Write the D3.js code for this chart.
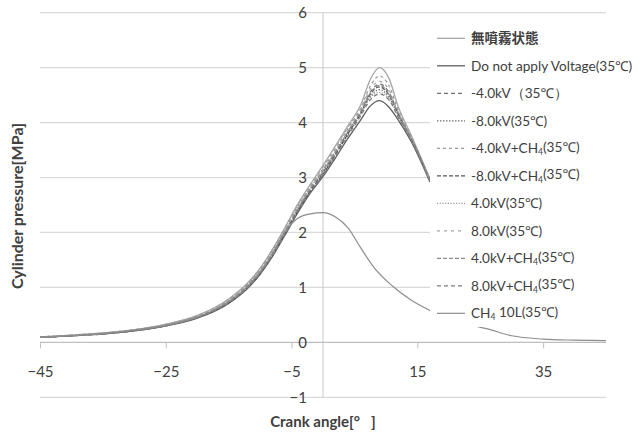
<!DOCTYPE html>
<html>
<head>
<meta charset="utf-8">
<script src="https://cdn.jsdelivr.net/npm/d3@7"></script>
<style>
  html, body { margin: 0; padding: 0; background: #fff; }
  svg { display: block; }
  text { font-family: Lato, "Noto Sans", sans-serif; fill: #404040; }
</style>
</head>
<body>
<svg id="chart" width="644" height="435"></svg>
<script>
// Crank angles [deg] for the combustion runs
const angles = [-45, -40, -35, -30, -25, -20, -15, -12, -10, -8, -6, -4, -2, 0, 2, 4, 6, 7.5, 9, 10.5, 12, 14, 17];

// Cylinder pressure [MPa] for each run
const noSpray      = [0.10, 0.13, 0.17, 0.23, 0.33, 0.49, 0.79, 1.08, 1.35, 1.70, 2.10, 2.52, 2.88, 3.22, 3.58, 3.95, 4.32, 4.78, 5.00, 4.80, 4.28, 3.78, 2.98];
const noVoltage    = [0.09, 0.12, 0.15, 0.21, 0.30, 0.44, 0.71, 0.98, 1.24, 1.57, 1.96, 2.36, 2.72, 3.02, 3.36, 3.72, 4.05, 4.30, 4.40, 4.28, 4.04, 3.66, 2.92];
const minus4kV     = [0.09, 0.12, 0.16, 0.22, 0.31, 0.46, 0.74, 1.02, 1.28, 1.62, 2.02, 2.42, 2.78, 3.10, 3.46, 3.84, 4.20, 4.55, 4.70, 4.55, 4.16, 3.72, 2.95];
const minus8kV     = [0.09, 0.12, 0.16, 0.22, 0.31, 0.45, 0.73, 1.01, 1.27, 1.60, 2.00, 2.40, 2.76, 3.08, 3.43, 3.80, 4.16, 4.47, 4.60, 4.46, 4.12, 3.70, 2.94];
const minus4kVCH4  = [0.10, 0.13, 0.17, 0.23, 0.32, 0.48, 0.77, 1.06, 1.33, 1.68, 2.08, 2.48, 2.84, 3.16, 3.52, 3.90, 4.26, 4.66, 4.85, 4.67, 4.22, 3.75, 2.96];
const minus8kVCH4  = [0.09, 0.12, 0.16, 0.21, 0.30, 0.45, 0.72, 1.00, 1.25, 1.59, 1.99, 2.39, 2.75, 3.06, 3.42, 3.80, 4.17, 4.51, 4.65, 4.50, 4.14, 3.71, 2.95];
const plus4kV      = [0.10, 0.13, 0.17, 0.23, 0.32, 0.47, 0.76, 1.05, 1.31, 1.66, 2.06, 2.46, 2.82, 3.14, 3.48, 3.84, 4.17, 4.45, 4.55, 4.43, 4.11, 3.70, 2.94];
const plus8kV      = [0.10, 0.13, 0.17, 0.23, 0.33, 0.48, 0.78, 1.07, 1.34, 1.69, 2.09, 2.50, 2.86, 3.19, 3.55, 3.92, 4.25, 4.60, 4.75, 4.59, 4.18, 3.74, 2.96];
const plus4kVCH4   = [0.09, 0.12, 0.16, 0.22, 0.31, 0.46, 0.75, 1.03, 1.29, 1.63, 2.03, 2.43, 2.80, 3.12, 3.47, 3.85, 4.20, 4.53, 4.68, 4.52, 4.15, 3.72, 2.95];
const plus8kVCH4   = [0.09, 0.12, 0.15, 0.21, 0.30, 0.45, 0.72, 0.99, 1.25, 1.58, 1.98, 2.38, 2.74, 3.05, 3.40, 3.77, 4.12, 4.41, 4.52, 4.41, 4.09, 3.69, 2.93];

// Methane-only run (no combustion peak), recorded over a longer window
const ch4Angles    = [-45, -40, -35, -30, -25, -20, -15, -12, -10, -8, -6, -4, -2, 0, 2, 4, 6, 8, 11, 14, 17, 20, 23, 26, 30, 35, 40, 45];
const ch4Only      = [0.09, 0.12, 0.16, 0.22, 0.31, 0.46, 0.74, 1.02, 1.28, 1.62, 2.02, 2.26, 2.34, 2.36, 2.28, 2.08, 1.72, 1.38, 1.03, 0.77, 0.58, 0.43, 0.33, 0.25, 0.12, 0.06, 0.04, 0.03];

// Axis ticks
const xTicks = [-45, -25, -5, 15, 35];
const yTicks = [-1, 0, 1, 2, 3, 4, 5, 6];

// Legend labels (parts: [text, isSubscript])
const seriesNames = [
  [["無噴霧状態", false]],
  [["Do not apply Voltage(35℃)", false]],
  [["-4.0kV（35℃）", false]],
  [["-8.0kV(35℃)", false]],
  [["-4.0kV+CH", false], ["4", true], ["(35℃)", false]],
  [["-8.0kV+CH", false], ["4", true], ["(35℃)", false]],
  [["4.0kV(35℃)", false]],
  [["8.0kV(35℃)", false]],
  [["4.0kV+CH", false], ["4", true], ["(35℃)", false]],
  [["8.0kV+CH", false], ["4", true], ["(35℃)", false]],
  [["CH", false], ["4", true], [" 10L(35℃)", false]]
];

const series = [
  { x: angles, y: noSpray,     color: "#a6a6a6", width: 1.3, dash: null },
  { x: angles, y: noVoltage,   color: "#5e5e5e", width: 1.3, dash: null },
  { x: angles, y: minus4kV,    color: "#707070", width: 1.2, dash: "4,3" },
  { x: angles, y: minus8kV,    color: "#707070", width: 1.2, dash: "1.5,1.5" },
  { x: angles, y: minus4kVCH4, color: "#9a9a9a", width: 1.2, dash: "3,3" },
  { x: angles, y: minus8kVCH4, color: "#555555", width: 1.2, dash: "4,2" },
  { x: angles, y: plus4kV,     color: "#9a9a9a", width: 1.2, dash: "1.2,1.5" },
  { x: angles, y: plus8kV,     color: "#a4a4a4", width: 1.2, dash: "3,4" },
  { x: angles, y: plus4kVCH4,  color: "#8c8c8c", width: 1.2, dash: "4,2" },
  { x: angles, y: plus8kVCH4,  color: "#7c7c7c", width: 1.2, dash: "4,3" },
  { x: ch4Angles, y: ch4Only,  color: "#8e8e8e", width: 1.2, dash: null }
];

const svg = d3.select("#chart");
svg.append("rect").attr("width", 644).attr("height", 435).attr("fill", "#fff");

const x = d3.scaleLinear().domain([-45, 45]).range([40, 606]);
const y = d3.scaleLinear().domain([-1, 6]).range([397.3, 12.7]);

// Horizontal gridlines
svg.append("g")
  .selectAll("line")
  .data(yTicks)
  .join("line")
  .attr("x1", x(-45)).attr("x2", x(45))
  .attr("y1", d => y(d)).attr("y2", d => y(d))
  .attr("stroke", d => d === 0 ? "#bfbfbf" : "#d9d9d9")
  .attr("stroke-width", 1.2);

// Vertical axis through 0 deg
svg.append("line")
  .attr("x1", x(0)).attr("x2", x(0))
  .attr("y1", y(6)).attr("y2", y(-1))
  .attr("stroke", "#c8c8c8").attr("stroke-width", 1);

// Horizontal axis crossing at 0 MPa, with ticks pointing down
const xAxis = d3.axisBottom(x).tickValues(xTicks).tickSize(6).tickPadding(18).tickFormat(d3.format("d"));
const gx = svg.append("g").attr("transform", `translate(0,${y(0)})`).call(xAxis);
gx.select(".domain").remove();
gx.selectAll(".tick line").attr("stroke", "#bfbfbf");
gx.selectAll(".tick text")
  .style("font-family", "Lato, sans-serif").style("font-size", "15px").attr("fill", "#404040");

// Pressure labels beside the vertical axis
const yAxis = d3.axisLeft(y).tickValues(yTicks).tickSize(0).tickPadding(0).tickFormat(d3.format("d"));
const gy = svg.append("g").attr("transform", `translate(${x(0) - 16},0)`).call(yAxis);
gy.select(".domain").remove();
gy.selectAll(".tick text")
  .style("font-family", "Lato, sans-serif").style("font-size", "15px").attr("fill", "#404040");

// Pressure curves
const line = d3.line().curve(d3.curveMonotoneX);
const plot = svg.append("g");
series.forEach(s => {
  const pts = s.x.map((a, i) => [x(a), y(s.y[i])]);
  plot.append("path")
    .attr("d", line(pts))
    .attr("fill", "none")
    .attr("stroke", s.color)
    .attr("stroke-width", s.width)
    .attr("stroke-dasharray", s.dash);
});

// Legend
const legend = svg.append("g");
legend.append("rect")
  .attr("x", 430).attr("y", 26).attr("width", 214).attr("height", 301)
  .attr("fill", "#fff");
const rowY0 = 38.3, rowStep = 27.5;
series.forEach((s, i) => {
  const ry = rowY0 + i * rowStep;
  legend.append("line")
    .attr("x1", 437).attr("x2", 465).attr("y1", ry).attr("y2", ry)
    .attr("stroke", s.color).attr("stroke-width", s.width)
    .attr("stroke-dasharray", s.dash);
  const t = legend.append("text")
    .attr("x", 471).attr("y", ry).attr("dy", "0.35em")
    .style("font-size", "13.6px");
  if (i === 0) t.style("font-family", "'Noto Sans CJK JP', sans-serif").style("font-weight", "bold").style("font-size", "13.5px");
  seriesNames[i].forEach(([txt, sub]) => {
    const ts = t.append("tspan").text(txt);
    if (sub) ts.style("font-size", "8.5px").attr("dy", "0.25em");
    else if (t.selectAll("tspan").size() > 1) ts.attr("dy", "-0.25em");
  });
});

// Axis titles
svg.append("text")
  .attr("x", 323).attr("y", 427)
  .attr("text-anchor", "middle")
  .style("font-size", "15px").style("font-weight", "bold")
  .attr("xml:space", "preserve")
  .text("Crank angle[°\u2002 ]");

svg.append("text")
  .attr("transform", "translate(23,206) rotate(-90)")
  .attr("text-anchor", "middle")
  .style("font-size", "16px").style("font-weight", "bold")
  .text("Cylinder pressure[MPa]");
</script>
</body>
</html>
